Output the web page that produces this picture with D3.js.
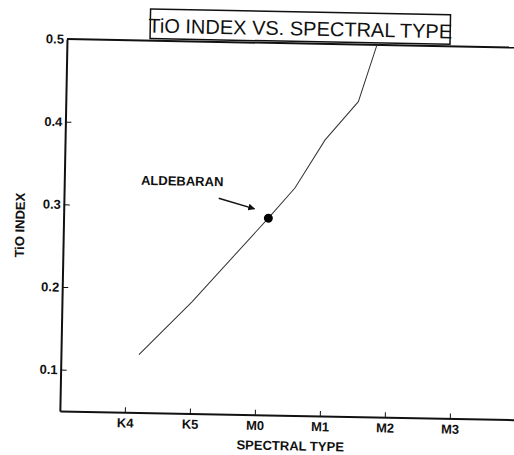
<!DOCTYPE html>
<html>
<head>
<meta charset="utf-8">
<script src="https://cdn.jsdelivr.net/npm/d3@7"></script>
<style>
  body { margin: 0; background: #fff; }
  svg { display: block; }
  .axis text { font-family: "Liberation Sans", Arial, sans-serif; font-weight: bold; font-size: 13px; fill: #111; }
  .axis path, .axis line { stroke: #111; }
</style>
</head>
<body>
<div id="chart"></div>
<script>
// Data
var typeLabels = ["K4", "K5", "M0", "M1", "M2", "M3"];
var typePos = [0, 1, 2, 3, 4, 5];
var lineType = [0.2, 1.0, 2.15, 2.55, 3.0, 3.5, 3.77];
var lineTiO = [0.12, 0.185, 0.288, 0.325, 0.384, 0.431, 0.5];
var yTicks = [0.1, 0.2, 0.3, 0.4, 0.5];
var starName = "ALDEBARAN";
var starType = 2.15;
var starTiO = 0.288;

var width = 514;
var height = 455;

// plot frame (before the scan tilt)
var plotLeft = 67, plotTop = 39, plotBottom = 411, plotRight = 522;

var svg = d3.select("#chart")
  .append("svg")
  .attr("width", width)
  .attr("height", height);

// the scanned page is a little tilted
var g = svg.append("g")
  .attr("transform", "rotate(1.1," + plotLeft + "," + plotTop + ")");

var xScale = d3.scaleLinear().domain([-1, 6]).range([plotLeft, plotRight]);
var yScale = d3.scaleLinear().domain([0.05, 0.5]).range([plotBottom, plotTop]);

// Bottom axis
var xAxis = d3.axisBottom(xScale)
  .tickValues(typePos)
  .tickFormat(function(d, i) { return typeLabels[i]; })
  .tickSizeInner(-5)
  .tickSizeOuter(0)
  .tickPadding(6);

g.append("g")
  .attr("class", "axis xAxis")
  .attr("transform", "translate(0," + plotBottom + ")")
  .call(xAxis);

// Left axis
var yAxis = d3.axisLeft(yScale)
  .tickValues(yTicks)
  .tickFormat(d3.format(".1f"))
  .tickSizeInner(-6)
  .tickSizeOuter(0)
  .tickPadding(3);

g.append("g")
  .attr("class", "axis yAxis")
  .attr("transform", "translate(" + plotLeft + ",0)")
  .call(yAxis);

g.selectAll(".axis .domain").attr("stroke-width", 2);
g.selectAll(".axis .tick line").attr("stroke-width", 1);

// top frame line
g.append("line")
  .attr("x1", plotLeft).attr("x2", plotRight)
  .attr("y1", plotTop).attr("y2", plotTop)
  .attr("stroke", "#111")
  .attr("stroke-width", 2);

// TiO curve
var line = d3.line()
  .x(function(d) { return xScale(d[0]); })
  .y(function(d) { return yScale(d[1]); });

g.append("path")
  .datum(d3.zip(lineType, lineTiO))
  .attr("d", line)
  .attr("fill", "none")
  .attr("stroke", "#333")
  .attr("stroke-width", 1);

// Aldebaran point
var sx = xScale(starType);
var sy = yScale(starTiO);

g.append("circle")
  .attr("cx", sx)
  .attr("cy", sy)
  .attr("r", 4.5)
  .attr("fill", "#000");

svg.append("defs").append("marker")
  .attr("id", "head")
  .attr("viewBox", "0 0 10 10")
  .attr("refX", 9)
  .attr("refY", 5)
  .attr("markerWidth", 7)
  .attr("markerHeight", 7)
  .attr("markerUnits", "userSpaceOnUse")
  .attr("orient", "auto")
  .append("path")
  .attr("d", "M0,0 L10,5 L0,10 Z")
  .attr("fill", "#111");

g.append("line")
  .attr("x1", sx - 50).attr("y1", sy - 19)
  .attr("x2", sx - 14).attr("y2", sy - 9)
  .attr("stroke", "#111")
  .attr("stroke-width", 1.5)
  .attr("marker-end", "url(#head)");

g.append("text")
  .attr("x", sx - 128)
  .attr("y", sy - 31)
  .attr("font-family", "Liberation Sans, Arial, sans-serif")
  .attr("font-weight", "bold")
  .attr("font-size", 13)
  .attr("fill", "#111")
  .text(starName);

// Axis titles
g.append("text")
  .attr("x", 298)
  .attr("y", 446)
  .attr("text-anchor", "middle")
  .attr("font-family", "Liberation Sans, Arial, sans-serif")
  .attr("font-weight", "bold")
  .attr("font-size", 13)
  .attr("fill", "#111")
  .text("SPECTRAL TYPE");

g.append("text")
  .attr("transform", "translate(28,226)rotate(-90)")
  .attr("text-anchor", "middle")
  .attr("font-family", "Liberation Sans, Arial, sans-serif")
  .attr("font-weight", "bold")
  .attr("font-size", 13)
  .attr("fill", "#111")
  .text("TiO INDEX");

// Boxed title
g.append("rect")
  .attr("x", 150)
  .attr("y", 7.5)
  .attr("width", 300)
  .attr("height", 29.5)
  .attr("fill", "#fff")
  .attr("stroke", "#111")
  .attr("stroke-width", 1.5);

g.append("text")
  .attr("x", 300)
  .attr("y", 31)
  .attr("text-anchor", "middle")
  .attr("font-family", "Liberation Sans, Arial, sans-serif")
  .attr("font-size", 20)
  .attr("fill", "#111")
  .text("TiO INDEX VS. SPECTRAL TYPE");
</script>
</body>
</html>
